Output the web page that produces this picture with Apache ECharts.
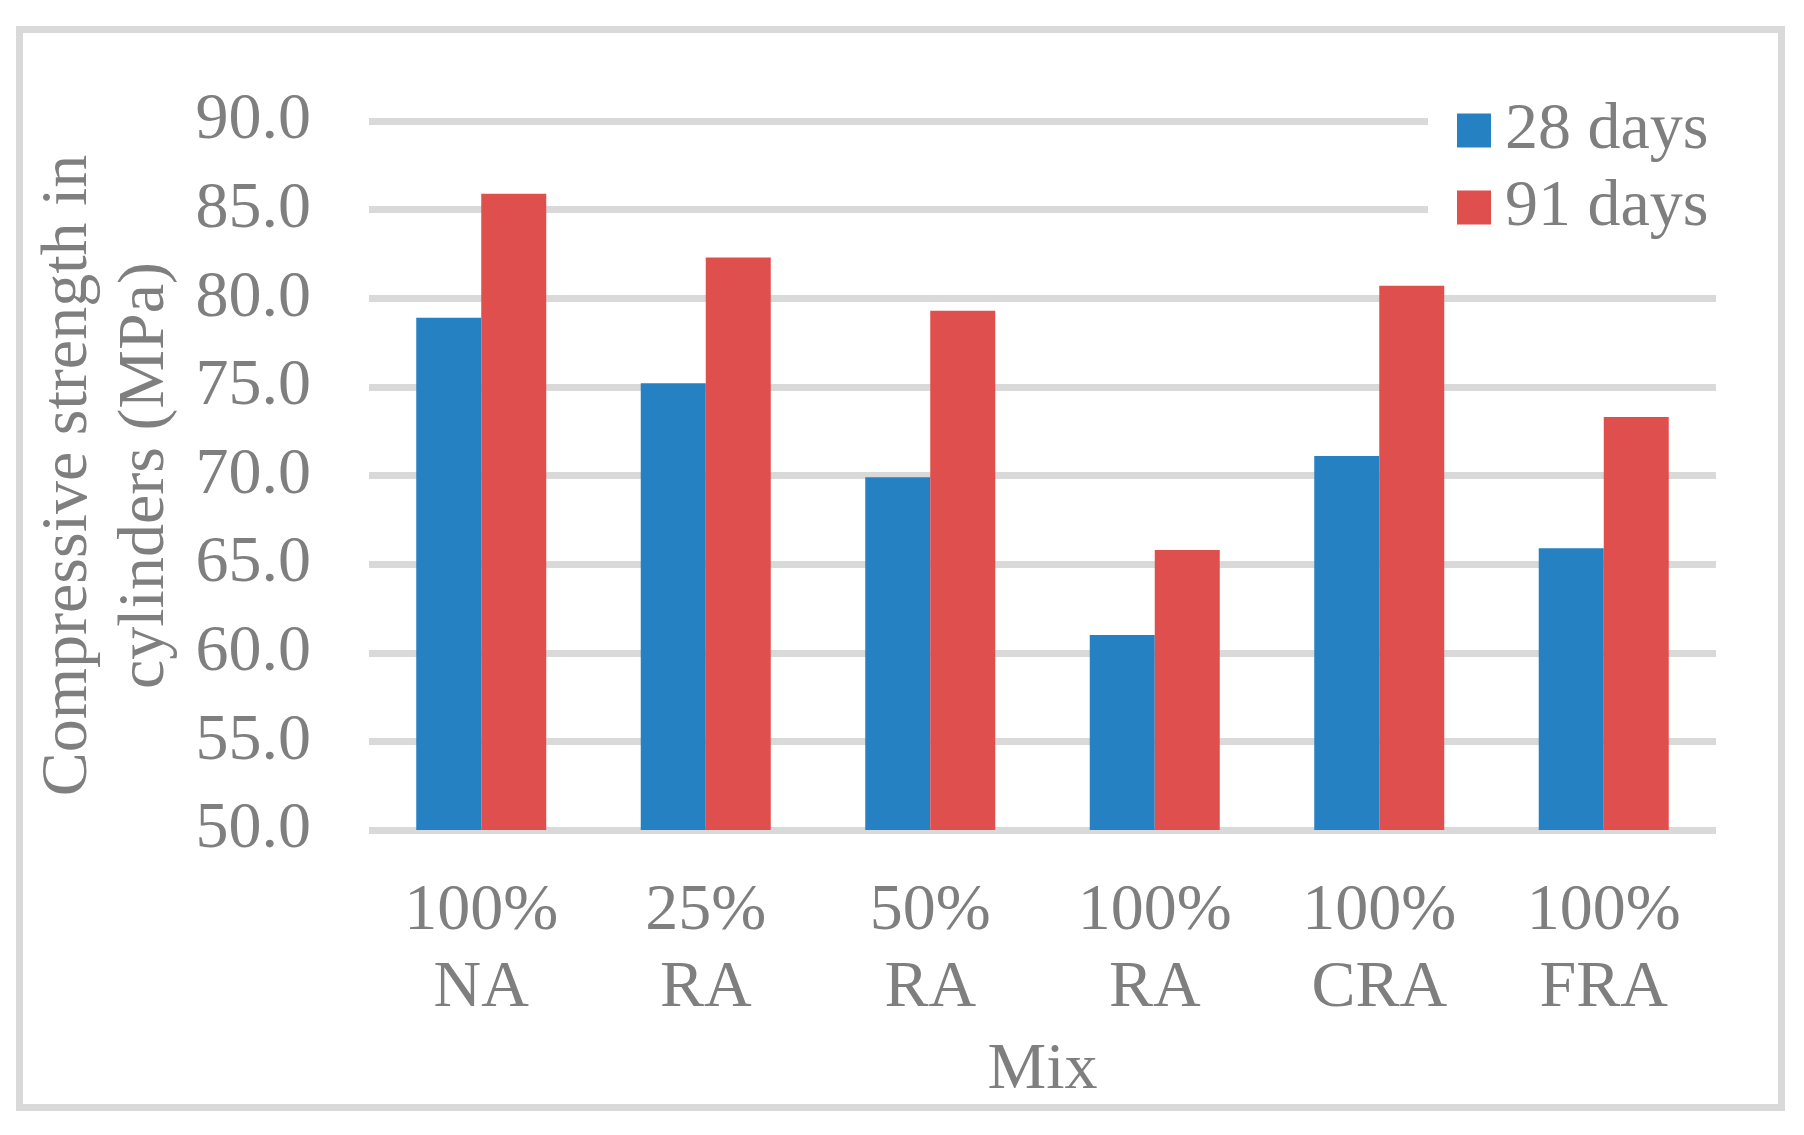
<!DOCTYPE html>
<html>
<head>
<meta charset="utf-8">
<script src="https://cdn.jsdelivr.net/npm/echarts@6/dist/echarts.min.js"></script>
<style>
  html, body { margin: 0; padding: 0; background: #fff; }
  #chart { width: 1804px; height: 1135px; }
</style>
</head>
<body>
<div id="chart"></div>
<script>
const categories = ['100%\nNA', '25%\nRA', '50%\nRA', '100%\nRA', '100%\nCRA', '100%\nFRA'];
const seriesNames = ['28 days', '91 days'];
const days28 = [78.9, 75.2, 69.9, 61.0, 71.1, 65.9];
const days91 = [85.9, 82.3, 79.3, 65.8, 80.7, 73.3];
const yMin = 50, yMax = 90, yStep = 5;

const FONT = 'Liberation Serif';
const GRAY = '#7f7f7f';
const FS = 66;

const chart = echarts.init(document.getElementById('chart'));
chart.setOption({
  animation: false,
  backgroundColor: '#fff',
  textStyle: { fontFamily: FONT },
  graphic: [{
    type: 'rect',
    shape: { x: 19.5, y: 29.5, width: 1762, height: 1078 },
    style: { fill: 'none', stroke: '#d9d9d9', lineWidth: 7 },
    silent: true
  }],
  grid: { left: 369, top: 121, width: 1347, height: 709, containLabel: false },
  legend: {
    orient: 'vertical',
    left: 1428,
    top: 82,
    padding: [10, 20, 10, 29],
    backgroundColor: '#fff',
    itemWidth: 34,
    itemHeight: 34,
    itemGap: 0,
    icon: 'rect',
    data: seriesNames,
    textStyle: { fontFamily: FONT, fontSize: FS, color: GRAY, lineHeight: 77, padding: [0, 0, 0, 9] }
  },
  xAxis: {
    type: 'category',
    data: categories,
    axisLine: { show: false },
    axisTick: { show: false },
    axisLabel: { fontFamily: FONT, fontSize: FS, color: GRAY, lineHeight: 77, margin: 43, interval: 0 },
    name: 'Mix',
    nameLocation: 'middle',
    nameGap: 186,
    nameTextStyle: { fontFamily: FONT, fontSize: FS, color: GRAY, lineHeight: 77 }
  },
  yAxis: {
    type: 'value',
    min: yMin,
    max: yMax,
    interval: yStep,
    axisLine: { show: false },
    axisTick: { show: false },
    splitLine: { lineStyle: { color: '#d9d9d9', width: 7 } },
    axisLabel: { fontFamily: FONT, fontSize: FS, color: GRAY, margin: 58, formatter: v => v.toFixed(1) },
    name: 'Compressive strength in\ncylinders (MPa)',
    nameLocation: 'middle',
    nameGap: 181,
    nameTextStyle: { fontFamily: FONT, fontSize: FS, color: GRAY, lineHeight: 77 }
  },
  series: [
    { name: seriesNames[0], type: 'bar', data: days28, barWidth: 65, barGap: '0%', itemStyle: { color: '#2581c1' } },
    { name: seriesNames[1], type: 'bar', data: days91, barWidth: 65, barGap: '0%', itemStyle: { color: '#de4f4e' } }
  ]
});
</script>
</body>
</html>
